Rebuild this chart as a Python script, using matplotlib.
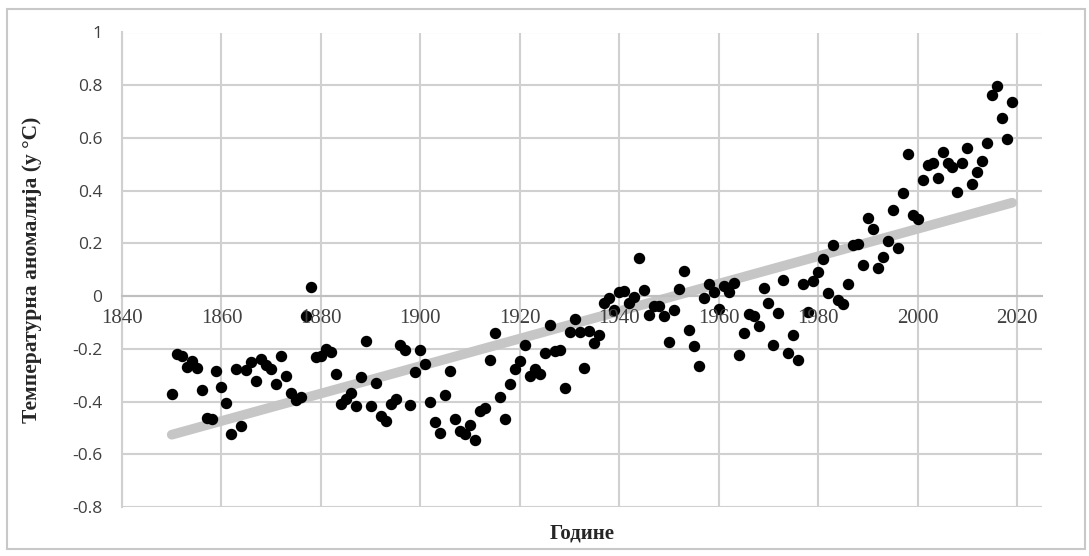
import numpy as np
import matplotlib.pyplot as plt
from matplotlib.patches import Rectangle

# Годишње температурне аномалије (HadCRUT4, у °C), 1850-2019
godine = np.arange(1850, 2020)
anomalija = [
    -0.373, -0.218, -0.228, -0.269, -0.248, -0.272, -0.358, -0.461, -0.467, -0.284,
    -0.343, -0.407, -0.524, -0.278, -0.494, -0.279, -0.251, -0.321, -0.238, -0.262,
    -0.276, -0.335, -0.227, -0.304, -0.368, -0.395, -0.384, -0.075, 0.035, -0.230,
    -0.227, -0.200, -0.213, -0.296, -0.409, -0.389, -0.367, -0.418, -0.307, -0.171,
    -0.416, -0.330, -0.455, -0.473, -0.410, -0.390, -0.186, -0.206, -0.412, -0.289,
    -0.203, -0.259, -0.402, -0.479, -0.520, -0.377, -0.283, -0.465, -0.511, -0.522,
    -0.490, -0.544, -0.437, -0.424, -0.244, -0.141, -0.383, -0.468, -0.333, -0.275,
    -0.247, -0.187, -0.302, -0.276, -0.294, -0.215, -0.108, -0.210, -0.206, -0.350,
    -0.137, -0.087, -0.137, -0.273, -0.131, -0.178, -0.147, -0.026, -0.006, -0.052,
    0.014, 0.020, -0.027, -0.004, 0.144, 0.025, -0.071, -0.038, -0.039, -0.074,
    -0.173, -0.052, 0.028, 0.097, -0.129, -0.190, -0.267, -0.007, 0.046, 0.017,
    -0.049, 0.038, 0.014, 0.048, -0.223, -0.140, -0.068, -0.074, -0.113, 0.032,
    -0.027, -0.186, -0.065, 0.062, -0.214, -0.149, -0.241, 0.047, -0.062, 0.057,
    0.092, 0.140, 0.011, 0.194, -0.014, -0.030, 0.045, 0.192, 0.198, 0.118,
    0.296, 0.254, 0.105, 0.148, 0.208, 0.325, 0.183, 0.390, 0.539, 0.306,
    0.294, 0.441, 0.496, 0.505, 0.447, 0.545, 0.506, 0.491, 0.395, 0.506,
    0.560, 0.425, 0.470, 0.514, 0.579, 0.763, 0.797, 0.677, 0.597, 0.736,
]
x_ticks = [1840, 1860, 1880, 1900, 1920, 1940, 1960, 1980, 2000, 2020]
y_ticks = [-0.8, -0.6, -0.4, -0.2, 0, 0.2, 0.4, 0.6, 0.8, 1]

# linearni trend
k, n = np.polyfit(godine, anomalija, 1)
trend = k * godine + n

fig = plt.figure(figsize=(10.89, 5.56), dpi=100)
fig.patches.append(Rectangle((7 / 1089, 1 - 549 / 556), 1078 / 1089, 540 / 556,
                             transform=fig.transFigure, fill=False,
                             edgecolor='#c8c8c8', linewidth=1.5))
ax = fig.add_axes([122 / 1089, 1 - 507 / 556, 920 / 1089, 474.5 / 556])

# osa x prolazi kroz nulu (prvo pozicija, pa tek onda oznake)
for s in ['top', 'right']:
    ax.spines[s].set_visible(False)
ax.spines['bottom'].set_position(('data', 0))
ax.spines['bottom'].set_color('#bfbfbf')
ax.spines['bottom'].set_linewidth(1.5)
ax.spines['left'].set_color('#d0d0d0')
ax.spines['left'].set_linewidth(1.5)

# mreza rucno, da bi oznake na osi x mogle da idu preko tacaka
for xv in x_ticks:
    ax.axvline(xv, color='#d0d0d0', linewidth=1.5, zorder=0)
for yv in y_ticks:
    ax.axhline(yv, color='#d0d0d0', linewidth=1.5, zorder=0)

ax.plot(godine, trend, color='#c6c6c6', linewidth=7, solid_capstyle='round', zorder=2)
ax.scatter(godine, anomalija, s=52, color='black', zorder=3)

ax.set_xlim(1840, 2025)
ax.set_ylim(-0.8, 1)
ax.set_xticks(x_ticks)
ax.set_yticks(y_ticks)
ax.set_yticklabels([('%g' % v) for v in y_ticks], family='Open Sans', fontsize=12.5, color='#404040')
ax.set_xticklabels([str(v) for v in x_ticks], family='Liberation Serif', fontsize=15, color='#404040')
ax.xaxis.set_zorder(4)
ax.tick_params(axis='both', length=0)
ax.tick_params(axis='x', pad=9)
ax.tick_params(axis='y', pad=14)

ax.set_xlabel('Године', family='Liberation Serif', fontsize=15, fontweight='bold', color='#262626')
ax.xaxis.set_label_coords(0.5, -0.035)
ax.set_ylabel('Температурна аномалија (у °C)', family='Liberation Serif', fontsize=15.5,
              fontweight='bold', color='#262626')
ax.yaxis.set_label_coords(-0.087, 0.5)

fig.savefig('out.png', dpi=100)
